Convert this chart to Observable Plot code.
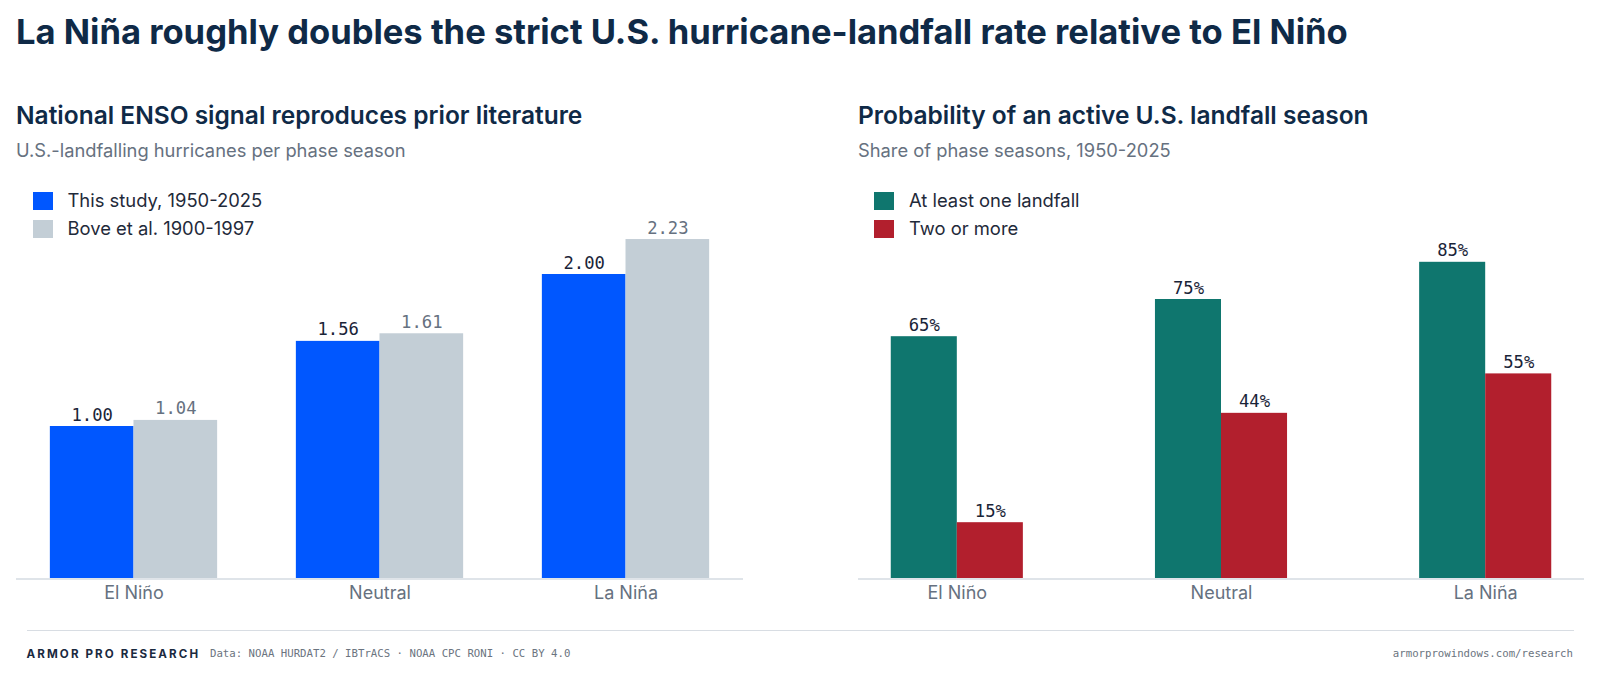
<!DOCTYPE html>
<html lang="en"><head><meta charset="utf-8">
<script src="https://cdn.jsdelivr.net/npm/d3@7"></script>
<script src="https://cdn.jsdelivr.net/npm/@observablehq/plot@0.6"></script>
<style>
html,body{margin:0;padding:0;background:#fff;width:1600px;height:686px;overflow:hidden;font-family:Inter,sans-serif}
.abs{position:absolute;white-space:nowrap}
#title{left:16px;top:10.5px;font-size:34.55px;line-height:42px;font-weight:700;color:#0f2a47}
.h{top:100px;font-size:24.5px;line-height:30px;font-weight:600;color:#0f2a47}
.s{top:138px;font-size:18.32px;line-height:24px;color:#667180}
.lg{font-size:18.4px;line-height:24px;color:#1f2a3a}
.sw{display:inline-block;width:20px;height:17.5px;position:absolute;left:0;top:3px}
.lgi{position:absolute;left:35px;top:-1px}
.chart{top:184px}
#rule{left:26.5px;top:629.5px;width:1547px;height:1px;background:#d8dde3}
.brand{left:26.5px;top:646px;font-size:11.6px;line-height:16px;font-weight:700;letter-spacing:2.1px;color:#1a2a3f}
.mono{font-family:"DejaVu Sans Mono",monospace;font-size:10.7px;line-height:16px;color:#6b7480}
</style></head><body>
<div id="title" class="abs">La Niña roughly doubles the strict U.S. hurricane-landfall rate relative to El Niño</div>
<div class="abs h" style="left:16px">National ENSO signal reproduces prior literature</div>
<div class="abs s" style="left:16px">U.S.-landfalling hurricanes per phase season</div>
<div class="abs h" style="left:858px">Probability of an active U.S. landfall season</div>
<div class="abs s" style="left:858px">Share of phase seasons, 1950-2025</div>
<div id="c1" class="abs chart" style="left:16px"></div>
<div id="c2" class="abs chart" style="left:858px"></div>
<div id="l1" class="abs lg" style="left:32.5px;top:189px"></div>
<div id="l2" class="abs lg" style="left:874px;top:189px"></div>
<div id="rule" class="abs"></div>
<div class="abs brand">ARMOR PRO RESEARCH</div>
<div class="abs mono" style="left:210px;top:646px">Data: NOAA HURDAT2 / IBTrACS · NOAA CPC RONI · CC BY 4.0</div>
<div class="abs mono" style="right:27px;top:646px">armorprowindows.com/research</div>
<script>
const phases = ["El Niño", "Neutral", "La Niña"];

const seriesA = ["This study, 1950-2025", "Bove et al. 1900-1997"];
const thisStudy = [1.00, 1.56, 2.00];
const bove = [1.04, 1.61, 2.23];
const colorsA = ["#0057ff", "#c3ced6"];
const labelColorsA = ["#1a2438", "#667180"];

const seriesB = ["At least one landfall", "Two or more"];
const atLeastOne = [65, 75, 85];
const twoOrMore = [15, 44.4, 55];
const colorsB = ["#0f766e", "#b21f2d"];
const labelColorsB = ["#1a2438", "#1a2438"];

function table(values) {
  return phases.map((phase, i) => ({phase, value: values[i]}));
}

function chart({arrays, colors, labelColors, domain, marginTop, width, paddingInner, paddingOuter, format}) {
  // Each phase band holds two side-by-side bars: half a band each.
  const step = width / (phases.length - paddingInner + 2 * paddingOuter);
  const half = step * (1 - paddingInner) / 2;
  const seriesMarks = arrays.flatMap((values, s) => [
    Plot.barY(table(values), {
      x: "phase", y: "value", fill: colors[s],
      insetLeft: s ? half : 0, insetRight: s ? 0 : half
    }),
    Plot.text(table(values), {
      x: "phase", y: "value", text: d => format(d.value),
      dx: (s ? 1 : -1) * half / 2, dy: -6, lineAnchor: "bottom", fontSize: 17.2,
      fontFamily: "DejaVu Sans Mono, monospace", fill: labelColors[s]
    })
  ]);
  return Plot.plot({
    width, height: 430,
    marginTop, marginBottom: 36, marginLeft: 0, marginRight: 0,
    style: {background: "transparent", overflow: "visible"},
    x: {domain: phases, paddingInner, paddingOuter, round: false, label: null},
    y: {domain, axis: null},
    marks: [
      ...seriesMarks,
      Plot.ruleY([0], {stroke: "#d5dbe2", strokeWidth: 1.5, dy: 0.5}),
      Plot.axisX({anchor: "bottom", label: null, tickSize: 0, tickPadding: 8, fontSize: 18,
        fontFamily: "Inter, sans-serif", color: "#667180"})
    ]
  });
}

function legend(el, series, colors) {
  series.forEach((s, i) => {
    const row = document.createElement("div");
    row.style.cssText = `position:relative;height:28px;white-space:nowrap`;
    const sw = document.createElement("span"); sw.className = "sw"; sw.style.background = colors[i];
    const t = document.createElement("span"); t.className = "lgi"; t.textContent = s;
    row.append(sw, t); el.append(row);
  });
}

document.getElementById("c1").append(chart({
  arrays: [thisStudy, bove], colors: colorsA, labelColors: labelColorsA,
  domain: [0, 2.5], marginTop: 14, width: 727, paddingInner: 0.32, paddingOuter: 0.1376, format: d3.format(".2f")
}));
document.getElementById("c2").append(chart({
  arrays: [atLeastOne, twoOrMore], colors: colorsB, labelColors: labelColorsB,
  domain: [0, 100], marginTop: 22, width: 726, paddingInner: 0.5, paddingOuter: 0.124, format: v => Math.round(v) + "%"
}));
legend(document.getElementById("l1"), seriesA, colorsA);
legend(document.getElementById("l2"), seriesB, colorsB);
</script>
</body></html>
